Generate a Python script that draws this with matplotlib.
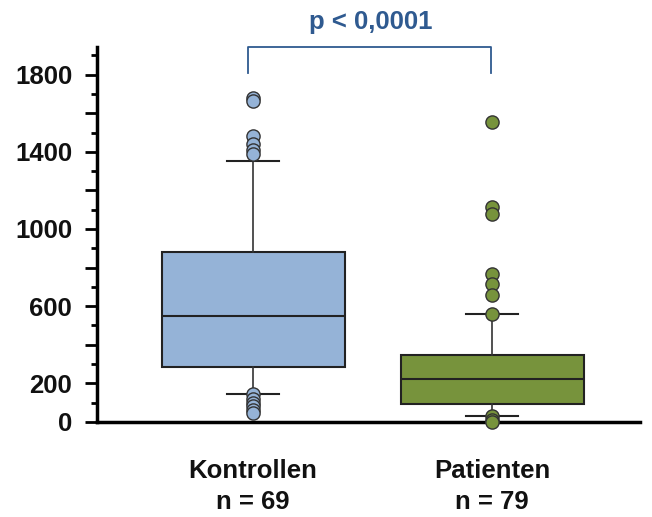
import matplotlib.pyplot as plt
from matplotlib.ticker import MultipleLocator

plt.rcParams["font.family"] = ["Liberation Sans", "DejaVu Sans"]

groups = ["Kontrollen\nn = 69", "Patienten\nn = 79"]
# box stats
q1 = [286, 94]
med = [551, 223]
q3 = [878, 348]
whislo = [145, 31]
whishi = [1352, 561]
fliers_ctrl = [1680, 1662, 1480, 1440, 1410, 1390, 145, 120, 100, 80, 62, 45]
fliers_pat = [1553, 1112, 1075, 769, 717, 660, 561, 31, 12, 0]
face_colors = ["#95B3D7", "#77933C"]
yticks = [0, 200, 400, 600, 800, 1000, 1200, 1400, 1600, 1800]
ytick_labels = ["0", "200", "", "600", "", "1000", "", "1400", "", "1800"]
p_text = "p < 0,0001"

stats = []
for i, fl in enumerate([fliers_ctrl, fliers_pat]):
    stats.append({"med": med[i], "q1": q1[i], "q3": q3[i],
                  "whislo": whislo[i], "whishi": whishi[i], "fliers": fl})

fig = plt.figure(figsize=(6.52, 5.17), dpi=100)
ax = fig.add_axes([0.149, 0.184, 0.833, 0.725])

bp = ax.bxp(stats, positions=[1, 2], widths=0.765, patch_artist=True,
            showfliers=True,
            boxprops=dict(edgecolor="#222222", linewidth=1.5),
            medianprops=dict(color="#222222", linewidth=1.5),
            whiskerprops=dict(color="#333333", linewidth=1.2),
            capprops=dict(color="#222222", linewidth=1.5),
            capwidths=0.22)
for patch, fc in zip(bp["boxes"], face_colors):
    patch.set_facecolor(fc)
for fl, fc in zip(bp["fliers"], face_colors):
    fl.set(marker="o", markerfacecolor=fc, markeredgecolor="#333333",
           markersize=9.5, markeredgewidth=1.0, clip_on=False, zorder=5)

ax.set_xlim(0.347, 2.62)
ax.set_ylim(0, 1943)
ax.set_yticks(yticks)
ax.set_yticklabels(ytick_labels)
ax.yaxis.set_minor_locator(MultipleLocator(100))
ax.set_xticks([1, 2])
ax.set_xticklabels(groups, linespacing=1.35)
ax.tick_params(axis="x", length=0, pad=27, labelsize=18.5)
ax.tick_params(axis="y", which="major", length=9, width=2, direction="out",
               labelsize=18.5, pad=9)
ax.tick_params(axis="y", which="minor", length=4, width=2, direction="out")
for lbl in ax.get_xticklabels() + ax.get_yticklabels():
    lbl.set_fontweight("bold")
    lbl.set_color("#111111")

for side in ["top", "right"]:
    ax.spines[side].set_visible(False)
ax.spines["left"].set_linewidth(2.5)
ax.spines["bottom"].set_linewidth(2.5)

# significance bracket
bc = "#2F5A90"
ax.plot([0.98, 0.98, 1.996, 1.996], [1808, 1943, 1943, 1808], color=bc,
        linewidth=1.3, clip_on=False)
ax.text(1.49, 2073, p_text, ha="center", va="center", color=bc,
        fontsize=18.5, fontweight="bold", clip_on=False)

fig.savefig("out.png", dpi=100)
